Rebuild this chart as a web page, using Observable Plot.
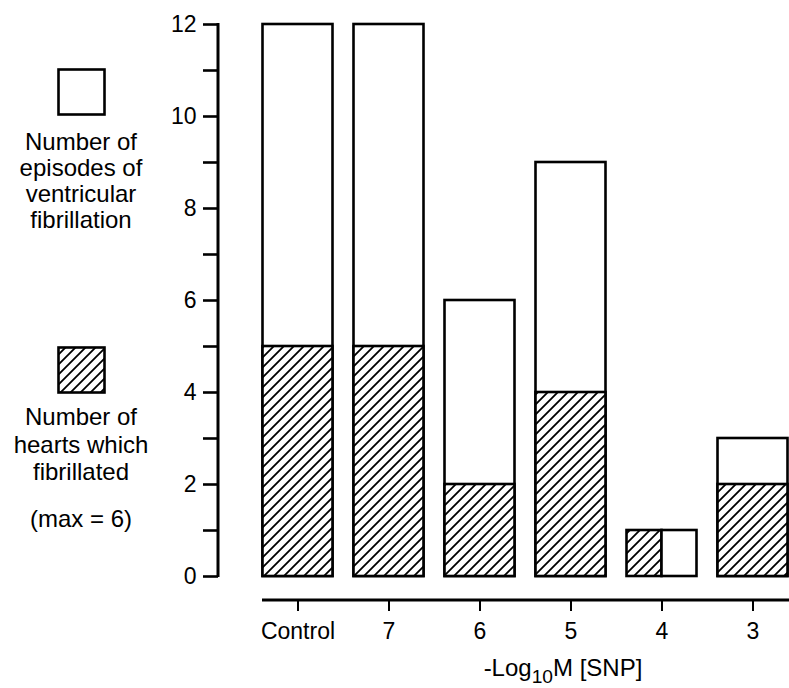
<!DOCTYPE html>
<html>
<head>
<meta charset="utf-8">
<script src="https://cdn.jsdelivr.net/npm/d3@7"></script>
<script src="https://cdn.jsdelivr.net/npm/@observablehq/plot@0.6"></script>
<style>
  html, body { margin: 0; padding: 0; background: #fff; }
  #fig { position: relative; width: 789px; height: 688px; font-family: "Liberation Sans", Arial, Helvetica, sans-serif; color: #000; overflow: hidden; }
  .lg-text { position: absolute; left: 0; width: 162px; text-align: center; font-size: 24px; }
  .swatch { position: absolute; }
  #xtitle { position: absolute; top: 652px; left: 383px; width: 360px; text-align: center; font-size: 24px; line-height: 32px; }
  #xtitle sub { font-size: 0.8em; vertical-align: -0.35em; line-height: 0; }
</style>
</head>
<body>
<svg width="0" height="0" style="position:absolute">
  <defs>
    <pattern id="hatch" patternUnits="userSpaceOnUse" width="10" height="10">
      <rect width="10" height="10" fill="white"></rect>
      <path d="M-2,2 L2,-2 M0,10 L10,0 M8,12 L12,8" stroke="black" stroke-width="1.8"></path>
    </pattern>
  </defs>
</svg>
<div id="fig">
  <div id="chart"></div>
  <svg class="swatch" style="left:57px;top:68px" width="50" height="49"><rect x="1.5" y="1.5" width="46" height="45" fill="white" stroke="black" stroke-width="2.6"></rect></svg>
  <div class="lg-text" style="top:129px;line-height:26px">Number of<br>episodes of<br>ventricular<br>fibrillation</div>
  <svg class="swatch" style="left:57px;top:346px" width="50" height="49"><rect x="1.5" y="1.5" width="46" height="45" fill="url(#hatch)" stroke="black" stroke-width="2.6"></rect></svg>
  <div class="lg-text" style="top:403px;line-height:27.5px">Number of<br>hearts which<br>fibrillated</div>
  <div class="lg-text" style="top:505px;line-height:28px">(max = 6)</div>
  <div id="xtitle">-Log<sub>10</sub>M [SNP]</div>
</div>
<script>
const categories = ["Control", "7", "6", "5", "4", "3"];
const episodes = [12, 12, 6, 9, 1, 3];
const hearts = [5, 5, 2, 4, 1, 2];
const yTicks = [0, 2, 4, 6, 8, 10, 12];
const yMinorTicks = [1, 3, 5, 7, 9, 11];

const rows = categories.map((c, i) => ({
  cat: c,
  episodes: episodes[i],
  hearts: hearts[i],
  split: hearts[i] === episodes[i]
}));
const stacked = rows.filter(d => !d.split);
const split = rows.filter(d => d.split);

const barStyle = { stroke: "black", strokeWidth: 2.6 };

const yAxisLine = (index, scales, values, dims) => {
  const y = scales.y;
  return d3.create("svg:line")
    .attr("x1", dims.marginLeft).attr("x2", dims.marginLeft)
    .attr("y1", y(yTicks[0]) + 1).attr("y2", y(yTicks[yTicks.length - 1]) - 1)
    .attr("stroke", "black").attr("stroke-width", 3)
    .node();
};
const xAxisLine = (index, scales, values, dims) => {
  const x = scales.x;
  const yb = dims.height - dims.marginBottom;
  return d3.create("svg:line")
    .attr("x1", x(categories[0]) + 10).attr("x2", dims.width)
    .attr("y1", yb).attr("y2", yb)
    .attr("stroke", "black").attr("stroke-width", 3)
    .node();
};

const plot = Plot.plot({
  width: 789,
  height: 652,
  marginTop: 24,
  marginBottom: 52,
  marginLeft: 218,
  marginRight: 0,
  style: { fontFamily: "Liberation Sans, Arial, Helvetica, sans-serif", fontSize: "23px", color: "black", background: "transparent" },
  x: { type: "band", domain: categories, range: [252, 798], padding: 0, round: false, label: null },
  y: { domain: [0, 12], insetBottom: 24, label: null },
  marks: [
    Plot.barY(stacked, { x: "cat", y: "episodes", fill: "white", insetLeft: 10.5, insetRight: 10.5, ...barStyle }),
    Plot.barY(stacked, { x: "cat", y: "hearts", fill: "url(#hatch)", insetLeft: 10.5, insetRight: 10.5, ...barStyle }),
    Plot.barY(split, { x: "cat", y: "hearts", fill: "url(#hatch)", insetLeft: 10.5, insetRight: 45.5, ...barStyle }),
    Plot.barY(split, { x: "cat", y: "episodes", fill: "white", insetLeft: 45.5, insetRight: 10.5, ...barStyle }),
    Plot.axisY({ ticks: yTicks, tickSize: 15, tickPadding: 7, strokeWidth: 2.6, label: null }),
    Plot.axisY({ ticks: yMinorTicks, tickSize: 15, tickFormat: () => "", strokeWidth: 2.6, label: null }),
    Plot.axisX({ tickSize: 11, tickPadding: 11, strokeWidth: 2, label: null }),
    yAxisLine,
    xAxisLine
  ]
});
document.getElementById("chart").appendChild(plot);
</script>
</body>
</html>
